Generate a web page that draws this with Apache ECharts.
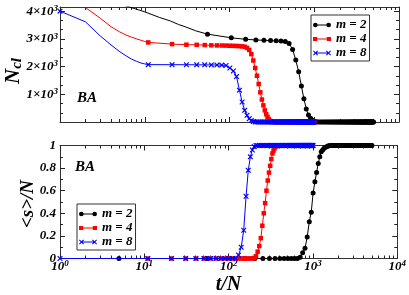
<!DOCTYPE html>
<html><head><meta charset="utf-8">
<script src="https://cdn.jsdelivr.net/npm/echarts@6/dist/echarts.min.js"></script>
<style>html,body{margin:0;padding:0;background:#fff}#c{width:409px;height:295px}</style>
</head><body><div id="c"></div>
<script>
// ---------------- data ----------------
const seriesNames = ['m = 2', 'm = 4', 'm = 8'];

// m = 2 (black)
const tBlack = [5,10,15,20,25,30,40,55,105,155,205,255,305,355,405,455,505,555,605,655,705,755,805,855,905,955,1005,1055,1105,
  1155,1205,1255,1305,1355,1405,1455,1505,1555,1605,1655,1705,1755,1805,1855,1905,1955,2005,2055,2105,
  2155,2205,2255,2305,2355,2405,2455,2505,2555,2605,2655,2705,2755,2805,2855,2905,2955,3005,3055,3105,
  3155,3205,3255,3305,3355,3405,3455,3505,3555,3605,3655,3705,3755,3805,3855,3905,3955,4005,4055,4105,
  4155,4205,4255,4305,4355,4405,4455,4505,4555,4605,4655,4705,4755,4805,4855,4905,4955,5005];
const nclBlack = [4270,3975,3770,3648,3520,3437,3290,3171,3038,2985,2960,2948,2938,2928,2920,2905,2836,2620,2234,1813,1297,840,468,252,133,60,22,8,3,
  1,1,1,1,1,1,1,1,1,1,1,1,1,1,1,1,1,1,1,
  1,1,1,1,1,1,1,1,1,1,1,1,1,1,1,1,1,1,1,1,
  1,1,1,1,1,1,1,1,1,1,1,1,1,1,1,1,1,1,1,1,
  1,1,1,1,1,1,1,1,1,1,1,1,1,1,1,1,1,1,1];
const sBlack = [0,0,0,0,0,0,0,0,0,0,0,0,0,0,0,0,0,0,0,0,0.01,0.05,0.09,0.19,0.325,0.41,0.58,0.68,0.76,
  0.84,0.9,0.944,0.96,0.975,0.985,0.99,0.995,0.998,1,1,1,1,1,1,1,1,1,1,
  1,1,1,1,1,1,1,1,1,1,1,1,1,1,1,1,1,1,1,1,
  1,1,1,1,1,1,1,1,1,1,1,1,1,1,1,1,1,1,1,1,
  1,1,1,1,1,1,1,1,1,1,1,1,1,1,1,1,1,1,1];

// m = 4 (red)
const tRed = [2,3,4,5,6,7,8,9,10,
  11,21,31,41,51,61,71,81,91,101,
  111,121,131,141,151,161,171,181,191,201,
  211,221,231,241,251,261,271,281,291,301,
  311,321,331,341,351,361,371,381,391,401,
  411,421,431,441,451,461,471,481,491,501,
  511,521,531,541,551,561,571,581,591,601,
  611,621,631,641,651,661,671,681,691,701,
  711,721,731,741,751,761,771,781,791,801,
  811,821,831,841,851,861,871,881,891,901,
  911,921,931,941,951,961,971,981,991,1001];
const nclRed = [4130,3740,3440,3260,3140,3060,3000,2950,2905,
  2872,2811,2790,2785,2775,2768,2763,2760,2757,2752,
  2748,2744,2738,2730,2716,2675,2600,2450,2220,1950,
  1670,1370,1070,810,600,420,280,185,105,45,
  20,8,3,1,1,1,1,1,1,1,
  1,1,1,1,1,1,1,1,1,1,
  1,1,1,1,1,1,1,1,1,1,
  1,1,1,1,1,1,1,1,1,1,
  1,1,1,1,1,1,1,1,1,1,
  1,1,1,1,1,1,1,1,1,1,
  1,1,1,1,1,1,1,1,1,1];
const sRed = [0,0,0,0,0,0,0,0,0,
  0,0,0,0,0,0,0,0,0,0,
  0,0,0,0,0,0,0,0,0,0.005,
  0.02,0.06,0.11,0.18,0.29,0.40,0.49,0.60,0.69,0.76,
  0.82,0.88,0.93,0.955,0.975,0.99,0.995,1,1,1,
  1,1,1,1,1,1,1,1,1,1,
  1,1,1,1,1,1,1,1,1,1,
  1,1,1,1,1,1,1,1,1,1,
  1,1,1,1,1,1,1,1,1,1,
  1,1,1,1,1,1,1,1,1,1,
  1,1,1,1,1,1,1,1,1,1];

// m = 8 (blue)
const tBlue = [1,2,3,4,5,6,7,8,9,10,
  11,21,31,41,51,61,71,81,91,101,
  111,121,131,141,151,161,171,181,191,201,
  211,221,231,241,251,261,271,281,291,301,
  311,321,331,341,351,361,371,381,391,401,
  411,421,431,441,451,461,471,481,491,501,
  511,521,531,541,551,561,571,581,591,601,
  611,621,631,641,651,661,671,681,691,701,
  711,721,731,741,751,761,771,781,791,801,
  811,821,831,841,851,861,871,881,891,901,
  911,921,931,941,951,961,971,981,991,1001];
const nclBlue = [4000,3614,3100,2780,2550,2390,2270,2190,2130,2095,
  2070,2068,2066,2064,2062,2060,2057,2054,2040,1950,
  1840,1640,1150,720,420,240,120,50,15,4,
  1,1,1,1,1,1,1,1,1,1,
  1,1,1,1,1,1,1,1,1,1,
  1,1,1,1,1,1,1,1,1,1,
  1,1,1,1,1,1,1,1,1,1,
  1,1,1,1,1,1,1,1,1,1,
  1,1,1,1,1,1,1,1,1,1,
  1,1,1,1,1,1,1,1,1,1,
  1,1,1,1,1,1,1,1,1,1];
const sBlue = [0,0,0,0,0,0,0,0,0,0,
  0,0,0,0,0,0,0,0,0,0,
  0,0,0.03,0.1,0.25,0.55,0.78,0.9,0.96,0.99,
  1,1,1,1,1,1,1,1,1,1,
  1,1,1,1,1,1,1,1,1,1,
  1,1,1,1,1,1,1,1,1,1,
  1,1,1,1,1,1,1,1,1,1,
  1,1,1,1,1,1,1,1,1,1,
  1,1,1,1,1,1,1,1,1,1,
  1,1,1,1,1,1,1,1,1,1,
  1,1,1,1,1,1,1,1,1,1];

// tick positions
const xMajorTicks = [1,10,100,1000,10000];
const xMinorTicks = [2,3,4,5,6,7,8,9,20,30,40,50,60,70,80,90,200,300,400,500,600,700,800,900,2000,3000,4000,5000,6000,7000,8000,9000];
const nclMajorTicks = [1000,2000,3000,4000];
const nclMinorTicks = [333.33,666.67,1333.33,1666.67,2333.33,2666.67,3333.33,3666.67];
const sMajorTicks = [0.2,0.4,0.6,0.8];
const sMinorTicks = [0.1,0.3,0.5,0.7,0.9];

// ---------------- chart ----------------
const FONT = 'Liberation Serif';
const AX = '#333';
const TK = '#222';
const rich = {
  b: {fontFamily: FONT, fontWeight: 'bold', fontStyle: 'italic', fontSize: 13, lineHeight: 14, color: '#000'},
  s: {fontFamily: FONT, fontWeight: 'bold', fontStyle: 'italic', fontSize: 9, lineHeight: 9, verticalAlign: 'top', color: '#000'}
};
const GRIDS = [
  {left: 60, top: 7, width: 339, height: 115},
  {left: 60, top: 145.5, width: 339, height: 113}
];
const tick = (len, cv) => ({show: true, inside: true, length: len, customValues: cv, lineStyle: {color: TK, width: 1}});

function xAxes(g, showLabels) {
  const base = {type: 'log', logBase: 10, min: 1, max: 10000, gridIndex: g, splitLine: {show: false}};
  return [
    Object.assign({}, base, {position: 'bottom', axisLine: {show: true, onZero: false, lineStyle: {color: AX, width: 1}}, axisTick: tick(5, xMajorTicks),
      axisLabel: {show: showLabels, margin: 1, formatter: v => '{b|10}{s|' + Math.round(Math.log10(v)) + '}', rich: rich}}),
    Object.assign({}, base, {position: 'bottom', axisLine: {show: false, onZero: false}, axisTick: tick(3, xMinorTicks), axisLabel: {show: false}}),
    Object.assign({}, base, {position: 'top', axisLine: {show: true, onZero: false, lineStyle: {color: AX, width: 1}}, axisTick: tick(5, xMajorTicks), axisLabel: {show: false}}),
    Object.assign({}, base, {position: 'top', axisLine: {show: false, onZero: false}, axisTick: tick(3, xMinorTicks), axisLabel: {show: false}})
  ];
}
function yAxes(g, max, interval, major, minor, fmt, margin) {
  const base = {type: 'value', min: 0, max: max, interval: interval, gridIndex: g, splitLine: {show: false}};
  return [
    Object.assign({}, base, {position: 'left', axisLine: {show: true, onZero: false, lineStyle: {color: AX, width: 1}}, axisTick: tick(5, major),
      axisLabel: {show: true, margin: margin, formatter: fmt, rich: rich}}),
    Object.assign({}, base, {position: 'left', axisLine: {show: false, onZero: false}, axisTick: tick(3, minor), axisLabel: {show: false}}),
    Object.assign({}, base, {position: 'right', axisLine: {show: true, onZero: false, lineStyle: {color: AX, width: 1}}, axisTick: tick(5, major), axisLabel: {show: false}}),
    Object.assign({}, base, {position: 'right', axisLine: {show: false, onZero: false}, axisTick: tick(3, minor), axisLabel: {show: false}})
  ];
}

const xPath = 'path://M0,1.5L1.5,0L5,3.5L8.5,0L10,1.5L6.5,5L10,8.5L8.5,10L5,6.5L1.5,10L0,8.5L3.5,5Z';
const styles = [
  {color: '#000000', symbol: 'circle', size: 5, rule: t => t % 50 === 5},
  {color: '#ff0000', symbol: 'rect', size: 4.5, rule: t => t % 10 === 1},
  {color: '#0000ff', symbol: xPath, size: 5.5, rule: t => t % 10 === 1}
];
const legendIcons = [
  'path://M0.2,2.5A2.3,2.3,0,1,1,4.8,2.5A2.3,2.3,0,1,1,0.2,2.5Z M2.5,2.1L15.5,2.1L15.5,2.9L2.5,2.9Z M13.2,2.5A2.3,2.3,0,1,1,17.8,2.5A2.3,2.3,0,1,1,13.2,2.5Z',
  'path://M0.5,0.5L4.5,0.5L4.5,4.5L0.5,4.5Z M2.5,2.1L15.5,2.1L15.5,2.9L2.5,2.9Z M13.5,0.5L17.5,0.5L17.5,4.5L13.5,4.5Z',
  'path://M0,0.75L0.75,0L2.5,1.75L4.25,0L5,0.75L3.25,2.5L5,4.25L4.25,5L2.5,3.25L0.75,5L0,4.25L1.75,2.5Z M2.5,2.1L15.5,2.1L15.5,2.9L2.5,2.9Z M13,0.75L13.75,0L15.5,1.75L17.25,0L18,0.75L16.25,2.5L18,4.25L17.25,5L15.5,3.25L13.75,5L13,4.25L14.75,2.5Z'
];

const topSets = [[tBlack, nclBlack], [tRed, nclRed], [tBlue, nclBlue]];
const botSets = [[tBlack, sBlack], [tRed, sRed], [tBlue, sBlue]];
const series = [];
[topSets, botSets].forEach((sets, g) => {
  sets.forEach((pair, k) => {
    const st = styles[k];
    series.push({
      type: 'line', name: seriesNames[k], xAxisIndex: g * 4, yAxisIndex: g * 4,
      data: pair[0].map((t, i) => [t, pair[1][i]]),
      symbol: v => (st.rule(v[0]) ? st.symbol : 'none'),
      symbolSize: st.size, showSymbol: true, clip: true,
      lineStyle: {color: st.color, width: 1}, itemStyle: {color: st.color, borderWidth: 0},
      emphasis: {disabled: true}, animation: false, z: 2 + k
    });
  });
});

function legend(left, top) {
  return {
    orient: 'vertical', left: left, top: top, itemWidth: 18, itemHeight: 5, itemGap: 0,
    padding: [3, 3, 1, 2], borderColor: AX, borderWidth: 1, backgroundColor: '#fff', selectedMode: false,
    itemStyle: {borderWidth: 0},
    textStyle: {fontFamily: FONT, fontWeight: 'bold', fontStyle: 'italic', fontSize: 13, lineHeight: 14, color: '#000'},
    data: seriesNames.map((n, i) => ({name: n, icon: legendIcons[i]}))
  };
}

const tf = (size) => ({fontFamily: FONT, fontWeight: 'bold', fontStyle: 'italic', fontSize: size, fill: '#000'});
const chart = echarts.init(document.getElementById('c'), null, {renderer: 'canvas'});
chart.setOption({
  animation: false,
  backgroundColor: '#fff',
  grid: GRIDS,
  xAxis: xAxes(0, false).concat(xAxes(1, true)),
  yAxis: yAxes(0, 4150, 1000, nclMajorTicks, nclMinorTicks, v => (v > 0 && v % 1000 === 0 && v <= 4000 ? '{b|' + (v / 1000) + '×10}{s|3}' : ''), 2)
    .concat(yAxes(1, 1, 0.2, sMajorTicks, sMinorTicks, v => '{b|' + v + '}', 4)),
  legend: [legend(311, 15), legend(77, 204)],
  series: series,
  graphic: [
    {type: 'text', x: 14, y: 71, rotation: Math.PI / 2, silent: true,
      style: {text: '{n|N}{c|cl}', align: 'center', verticalAlign: 'middle',
        rich: {n: Object.assign(tf(21), {lineHeight: 22}), c: Object.assign(tf(15), {lineHeight: 12, verticalAlign: 'bottom'})}}},
    {type: 'text', x: 28.5, y: 204, rotation: Math.PI / 2, silent: true,
      style: Object.assign(tf(19), {text: '<s>/N', align: 'center', verticalAlign: 'middle'})},
    {type: 'text', x: 228.5, y: 285, silent: true,
      style: Object.assign(tf(20), {text: 't/N', align: 'center', verticalAlign: 'middle'})},
    {type: 'text', x: 87, y: 98, silent: true,
      style: Object.assign(tf(15), {text: 'BA', align: 'center', verticalAlign: 'middle'})},
    {type: 'text', x: 85, y: 167.5, silent: true,
      style: Object.assign(tf(15), {text: 'BA', align: 'center', verticalAlign: 'middle'})}
  ]
});
</script>
</body></html>
